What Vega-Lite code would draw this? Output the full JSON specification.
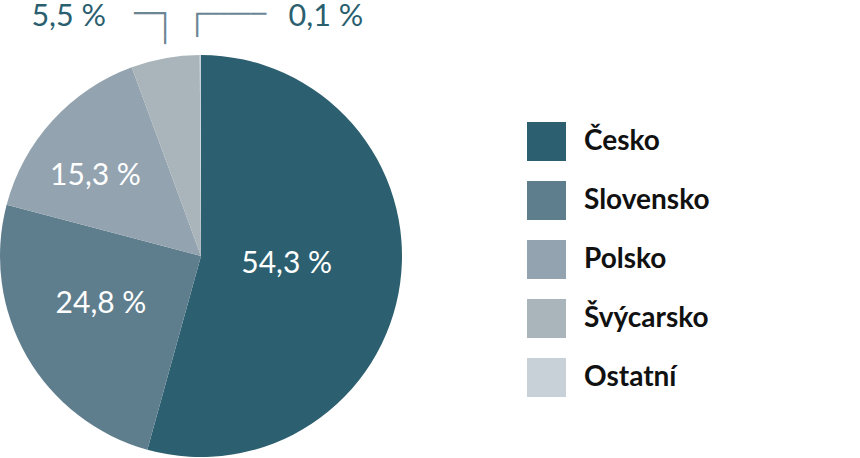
{
  "$schema": "https://vega.github.io/schema/vega-lite/v6.json",
  "width": 402,
  "height": 512,
  "autosize": {"type": "none"},
  "padding": {"left": 0, "top": 0, "right": 458, "bottom": 0},
  "background": "white",
  "config": {
    "view": {"stroke": null},
    "text": {"font": "Lato"},
    "legend": {
      "orient": "none",
      "legendX": 527,
      "legendY": 122,
      "direction": "vertical",
      "padding": 0,
      "symbolType": "square",
      "symbolSize": 1521,
      "symbolStrokeWidth": 0,
      "symbolOpacity": 1,
      "labelFont": "Lato",
      "labelFontWeight": "bold",
      "labelFontSize": 28,
      "labelColor": "#111111",
      "labelOffset": 18,
      "rowPadding": 20
    }
  },
  "data": {
    "values": [
      {"country": "Česko", "value": 54.3, "rank": 1, "label": "54,3 %"},
      {"country": "Slovensko", "value": 24.8, "rank": 2, "label": "24,8 %"},
      {"country": "Polsko", "value": 15.3, "rank": 3, "label": "15,3 %"},
      {"country": "Švýcarsko", "value": 5.5, "rank": 4, "label": "5,5 %"},
      {"country": "Ostatní", "value": 0.1, "rank": 5, "label": "0,1 %"}
    ]
  },
  "encoding": {
    "theta": {"field": "value", "type": "quantitative", "stack": true},
    "order": {"field": "rank", "type": "quantitative"}
  },
  "layer": [
    {
      "mark": {"type": "arc", "outerRadius": 201, "stroke": null},
      "encoding": {
        "color": {
          "field": "country",
          "type": "nominal",
          "scale": {
            "domain": ["Česko", "Slovensko", "Polsko", "Švýcarsko", "Ostatní"],
            "range": ["#2c5f6f", "#5f7e8d", "#93a3af", "#a9b5ba", "#c8d0d8"]
          },
          "legend": {"title": null}
        }
      }
    },
    {
      "mark": {"type": "text", "font": "DejaVu Sans Mono", "fontSize": 13.3, "radius": 246, "align": "right", "baseline": "middle", "dx": 8.8, "color": "#6a8694"},
      "encoding": {
        "text": {"value": "━━━━"},
        "opacity": {"condition": {"test": "datum.country === 'Švýcarsko'", "value": 1}, "value": 0}
      }
    },
    {
      "mark": {"type": "text", "font": "DejaVu Sans Mono", "fontSize": 12.46, "radius": 246, "angle": 90, "align": "left", "baseline": "middle", "dx": 0, "dy": -8.1, "color": "#6a8694"},
      "encoding": {
        "text": {"value": "━━━━"},
        "opacity": {"condition": {"test": "datum.country === 'Švýcarsko'", "value": 1}, "value": 0}
      }
    },
    {
      "mark": {"type": "text", "font": "DejaVu Sans Mono", "fontSize": 12.92, "radius": 242, "align": "left", "baseline": "middle", "dx": -4, "color": "#6a8694"},
      "encoding": {
        "text": {"value": "━━━━━━━━━"},
        "opacity": {"condition": {"test": "datum.country === 'Ostatní'", "value": 1}, "value": 0}
      }
    },
    {
      "mark": {"type": "text", "font": "DejaVu Sans Mono", "fontSize": 12.73, "radius": 242, "angle": 90, "align": "left", "baseline": "middle", "dx": 0, "dy": 3.2, "color": "#6a8694"},
      "encoding": {
        "text": {"value": "━━━"},
        "opacity": {"condition": {"test": "datum.country === 'Ostatní'", "value": 1}, "value": 0}
      }
    },
    {
      "mark": {"type": "text", "fontSize": 30.5, "radius": 246, "align": "right", "baseline": "alphabetic", "dx": -51.2, "dy": 12, "color": "#2b5f70"},
      "encoding": {
        "text": {"field": "label"},
        "opacity": {"condition": {"test": "datum.country === 'Švýcarsko'", "value": 1}, "value": 0}
      }
    },
    {
      "mark": {"type": "text", "fontSize": 30.5, "radius": 242, "align": "left", "baseline": "alphabetic", "dx": 88.3, "dy": 12, "color": "#2b5f70"},
      "encoding": {
        "text": {"field": "label"},
        "opacity": {"condition": {"test": "datum.country === 'Ostatní'", "value": 1}, "value": 0}
      }
    },
    {
      "mark": {"type": "text", "fontSize": 30, "radius": 88, "align": "center", "baseline": "alphabetic", "dx": -1.5, "dy": 5.5, "color": "white"},
      "encoding": {
        "text": {"field": "label"},
        "opacity": {"condition": {"test": "datum.country === 'Česko'", "value": 1}, "value": 0}
      }
    },
    {
      "mark": {"type": "text", "fontSize": 30, "radius": 109, "align": "center", "baseline": "alphabetic", "dx": -5.5, "dy": 3, "color": "white"},
      "encoding": {
        "text": {"field": "label"},
        "opacity": {"condition": {"test": "datum.country === 'Slovensko'", "value": 1}, "value": 0}
      }
    },
    {
      "mark": {"type": "text", "fontSize": 30, "radius": 132, "align": "center", "baseline": "alphabetic", "dx": -7.9, "dy": 17.8, "color": "white"},
      "encoding": {
        "text": {"field": "label"},
        "opacity": {"condition": {"test": "datum.country === 'Polsko'", "value": 1}, "value": 0}
      }
    }
  ]
}
